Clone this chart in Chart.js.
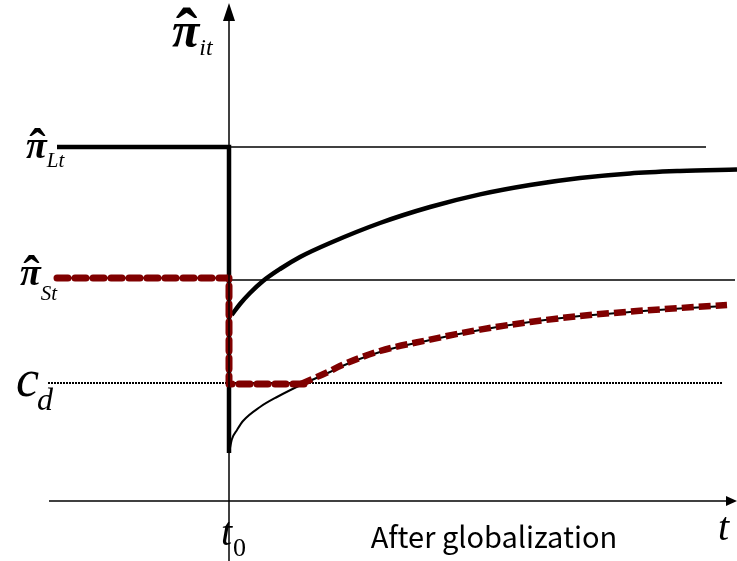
<!DOCTYPE html>
<html>
<head>
<meta charset="utf-8">
<script src="https://cdn.jsdelivr.net/npm/chart.js@4/dist/chart.umd.min.js"></script>
<style>
  html, body { margin: 0; padding: 0; background: #fff; }
  #wrap { width: 737px; height: 561px; }
</style>
</head>
<body>
<div id="wrap"><canvas id="chart"></canvas></div>
<script>
// time axis: t0 = 0, after globalization t > 0
const tMin = -11.45, tMax = 25.4;
const pMin = -3, pMax = 25.05;

// levels on the profit axis
const piL = 17.7;   // π̂_Lt
const piS = 11.15;  // π̂_St
const cD = 5.9;     // c_d
const levelSubs = ['Lt', 'St', 'd'];

// thick black: large firms before t0, drop at t0
const largePreT = [-8.6, 0, 0];
const largePreP = [piL, piL, 2.4];

// thick black curve: large firms after globalization
const largeT = [0.135, 0.55, 1.05, 1.7, 2.55, 3.55, 5.05, 7.55, 10.05, 12.55, 15.05, 17.55, 20.05, 22.55, 25.4];
const largeP = [9.3, 9.85, 10.4, 11.0, 11.6, 12.2, 12.9, 13.9, 14.7, 15.33, 15.8, 16.15, 16.38, 16.5, 16.58];

// thin black curve: small firms after globalization
const smallT = [0, 0.15, 0.4, 0.7, 1.55, 2.4, 3.8, 5.05, 5.55, 7.55, 10.05, 12.55, 15.05, 17.55, 20.05, 22.55, 24.9];
const smallP = [2.4, 3.1, 3.55, 4.0, 4.7, 5.2, 5.9, 6.45, 6.7, 7.45, 8.05, 8.55, 8.95, 9.25, 9.45, 9.63, 9.75];

// dashed red: surviving small firms (step then curve)
const survStepT = [-8.6, 0, 0, 3.8];
const survStepP = [piS, piS, 5.85, 5.85];
const survCurveT = [3.6, 5.05, 5.55, 7.55, 10.05, 12.55, 15.05, 17.55, 20.05, 22.55, 24.9];
const survCurveP = [5.85, 6.5, 6.75, 7.5, 8.07, 8.57, 8.95, 9.25, 9.47, 9.65, 9.8];

// reference lines
const refLT = [0, 23.85];
const refST = [0, 25.3];
const refCT = [-9.05, 24.65];

const pts = (xs, ys) => xs.map((x, i) => ({ x: x, y: ys[i] }));
const flat = (xs, y) => xs.map(x => ({ x: x, y: y }));

const RED = '#800000';

const axesAndLabels = {
    id: 'axesAndLabels',
    afterDatasetsDraw(chart) {
        const c = chart.ctx;
        const xs = chart.scales.x, ys = chart.scales.y;
        const x0 = xs.getPixelForValue(0);
        const y0 = ys.getPixelForValue(0);
        c.save();
        c.strokeStyle = '#000';
        c.fillStyle = '#000';
        c.lineWidth = 1.5;

        // horizontal axis
        const xl = xs.getPixelForValue(-9.0);
        const xr = xs.getPixelForValue(tMax);
        c.beginPath();
        c.moveTo(xl, y0);
        c.lineTo(xr - 8, y0);
        c.stroke();
        c.beginPath();
        c.moveTo(xr, y0);
        c.lineTo(xr - 11, y0 - 5);
        c.lineTo(xr - 11, y0 + 5);
        c.closePath();
        c.fill();

        // vertical axis
        const yb = ys.getPixelForValue(pMin);
        const yt = ys.getPixelForValue(24.9);
        c.beginPath();
        c.moveTo(x0, yb);
        c.lineTo(x0, yt + 12);
        c.stroke();
        c.beginPath();
        c.moveTo(x0, yt);
        c.lineTo(x0 - 6, yt + 18);
        c.lineTo(x0 + 6, yt + 18);
        c.closePath();
        c.fill();

        const serif = '"Liberation Serif", "Times New Roman", serif';
        const piLabel = (x, base, size, sub, subSize, subDrop) => {
            c.textAlign = 'left';
            c.textBaseline = 'alphabetic';
            c.font = 'bold italic ' + size + 'px ' + serif;
            c.fillText('π', x, base);
            const w = c.measureText('π').width;
            c.font = 'bold ' + Math.round(size * 1.3) + 'px ' + serif;
            c.textAlign = 'center';
            c.fillText('ˆ', x + w / 2 + 1, base + size * 0.14);
            c.textAlign = 'left';
            c.font = 'italic ' + subSize + 'px ' + serif;
            c.fillText(sub, x + w, base + subDrop);
        };

        // axis title
        piLabel(172, 47, 50, 'it', 24, 8);
        // level labels
        piLabel(26, ys.getPixelForValue(piL) + 11, 38, levelSubs[0], 21, 9);
        piLabel(20, ys.getPixelForValue(piS) + 7, 38, levelSubs[1], 21, 15);

        const yc = ys.getPixelForValue(cD);
        c.textAlign = 'left';
        c.font = 'italic 52px ' + serif;
        c.fillText('c', 16, yc + 13);
        const cw = c.measureText('c').width;
        c.font = 'italic 32px ' + serif;
        c.fillText(levelSubs[2], 14 + cw, yc + 27);

        // t0 and t
        c.font = 'italic 40px ' + serif;
        c.fillText('t', x0 - 8, y0 + 44);
        const tw = c.measureText('t').width;
        c.font = '26px ' + serif;
        c.fillText('0', x0 - 7 + tw, y0 + 55);
        c.font = 'italic 40px ' + serif;
        c.fillText('t', 718, y0 + 39);

        c.font = '29px "Noto Sans CJK JP", "Noto Sans", sans-serif';
        c.textAlign = 'center';
        c.fillText('After globalization', 494, y0 + 47);
        c.restore();
    }
};

new Chart(document.getElementById('chart').getContext('2d'), {
    type: 'scatter',
    data: {
        datasets: [
            {
                label: 'survivors step',
                data: pts(survStepT, survStepP),
                showLine: true, borderColor: RED, borderWidth: 7,
                borderDash: [11, 7], borderCapStyle: 'round', borderJoinStyle: 'round',
                tension: 0, pointRadius: 0
            },
            {
                label: 'survivors curve',
                data: pts(survCurveT, survCurveP),
                showLine: true, borderColor: RED, borderWidth: 6.5,
                borderDash: [12, 5], cubicInterpolationMode: 'monotone', pointRadius: 0
            },
            {
                label: 'large pre',
                data: pts(largePreT, largePreP),
                showLine: true, borderColor: '#000', borderWidth: 4.5,
                tension: 0, pointRadius: 0
            },
            {
                label: 'large post',
                data: pts(largeT, largeP),
                showLine: true, borderColor: '#000', borderWidth: 4.5,
                cubicInterpolationMode: 'monotone', pointRadius: 0
            },
            {
                label: 'small post',
                data: pts(smallT, smallP),
                showLine: true, borderColor: '#000', borderWidth: 2,
                cubicInterpolationMode: 'monotone', pointRadius: 0
            },
            {
                label: 'L level',
                data: flat(refLT, piL),
                showLine: true, borderColor: '#000', borderWidth: 1.5, pointRadius: 0
            },
            {
                label: 'S level',
                data: flat(refST, 11.05),
                showLine: true, borderColor: '#000', borderWidth: 1.3, pointRadius: 0
            },
            {
                label: 'S pre thin',
                data: flat([-8.6, 0], piS),
                showLine: true, borderColor: '#000', borderWidth: 1.3, pointRadius: 0
            },
            {
                label: 'cd',
                data: flat(refCT, cD),
                showLine: true, borderColor: '#000', borderWidth: 2,
                borderDash: [2, 1], pointRadius: 0
            }
        ]
    },
    options: {
        responsive: true,
        maintainAspectRatio: false,
        animation: false,
        layout: { padding: 0 },
        plugins: { legend: { display: false }, tooltip: { enabled: false } },
        scales: {
            x: { type: 'linear', display: false, min: tMin, max: tMax },
            y: { type: 'linear', display: false, min: pMin, max: pMax }
        }
    },
    plugins: [axesAndLabels]
});
</script>
</body>
</html>
